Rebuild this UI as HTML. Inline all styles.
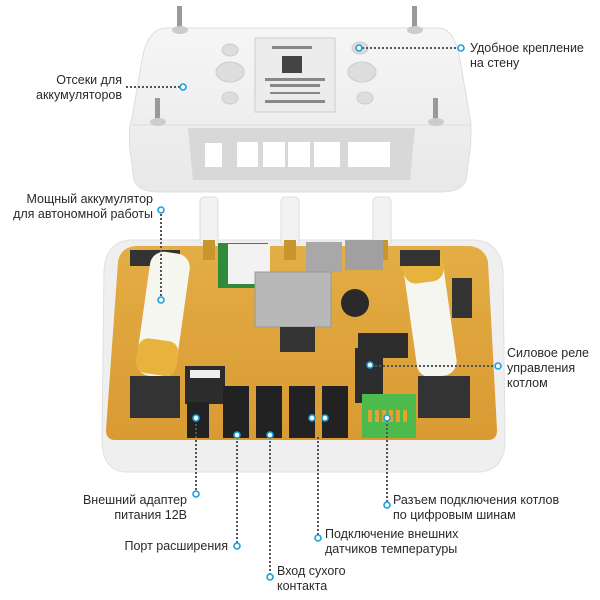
<!DOCTYPE html>
<html><head><meta charset="utf-8"><style>
html,body{margin:0;padding:0;background:#fff;}
svg{display:block}
text{font-family:"Liberation Sans",sans-serif;font-size:12.5px;fill:#2a2a2a;}
</style></head><body>
<svg width="600" height="600" viewBox="0 0 600 600" xmlns="http://www.w3.org/2000/svg">
<defs>
<linearGradient id="hs" x1="0" y1="0" x2="0" y2="1"><stop offset="0" stop-color="#f6f6f6"/><stop offset="1" stop-color="#e8e8e8"/></linearGradient>
<linearGradient id="bd" x1="0" y1="0" x2="0" y2="1"><stop offset="0" stop-color="#e4ad45"/><stop offset="1" stop-color="#d99a32"/></linearGradient>
</defs>
<path d="M165 28 L440 28 Q455 30 460 60 L470 118 Q472 128 470 150 L466 180 Q462 192 440 192 L160 192 Q138 192 134 180 L130 150 Q128 128 132 118 L142 60 Q147 30 165 28Z" fill="url(#hs)" stroke="#ddd"/>
<path d="M132 125 L470 125" stroke="#ddd"/>
<path d="M188 128 L415 128 L410 180 L193 180Z" fill="#d8d8d8"/>
<g fill="#fff"><rect x="205" y="143" width="17" height="24"/><rect x="237" y="142" width="21" height="25"/><rect x="263" y="142" width="22" height="25"/><rect x="288" y="142" width="22" height="25"/><rect x="314" y="142" width="26" height="25"/><rect x="348" y="142" width="42" height="25"/></g>
<rect x="255" y="38" width="80" height="74" fill="#ececec" stroke="#ccc"/>
<rect x="282" y="56" width="20" height="17" fill="#444"/>
<g fill="#888"><rect x="265" y="78" width="60" height="3"/><rect x="270" y="84" width="50" height="3"/><rect x="270" y="92" width="50" height="2"/><rect x="265" y="100" width="60" height="3"/><rect x="272" y="46" width="40" height="3"/></g>
<g fill="#ddd" stroke="#ccc"><ellipse cx="230" cy="50" rx="8" ry="6"/><ellipse cx="230" cy="72" rx="14" ry="10"/><ellipse cx="230" cy="98" rx="8" ry="6"/><ellipse cx="360" cy="48" rx="8" ry="6"/><ellipse cx="362" cy="72" rx="14" ry="10"/><ellipse cx="365" cy="98" rx="8" ry="6"/></g>
<g fill="#999"><rect x="177" y="6" width="5" height="24"/><rect x="412" y="6" width="5" height="24"/><rect x="155" y="98" width="5" height="24"/><rect x="433" y="98" width="5" height="24"/></g>
<g fill="#ccc"><ellipse cx="180" cy="30" rx="8" ry="4"/><ellipse cx="415" cy="30" rx="8" ry="4"/><ellipse cx="158" cy="122" rx="8" ry="4"/><ellipse cx="436" cy="122" rx="8" ry="4"/></g>
<path d="M130 240 L475 240 Q500 242 503 270 L505 440 Q505 470 480 472 L125 472 Q102 470 102 440 L104 270 Q106 242 130 240Z" fill="#efefef" stroke="#e0e0e0"/>
<path d="M135 246 L470 246 Q485 248 488 262 L497 430 Q497 440 488 440 L115 440 Q106 440 106 430 L118 262 Q120 248 135 246Z" fill="url(#bd)"/>
<g fill="#f2f2f2" stroke="#ddd"><rect x="200" y="197" width="18" height="48" rx="4"/><rect x="281" y="197" width="18" height="48" rx="4"/><rect x="373" y="197" width="18" height="48" rx="4"/></g>
<g fill="#c8962e"><rect x="203" y="240" width="12" height="20"/><rect x="284" y="240" width="12" height="20"/><rect x="376" y="240" width="12" height="20"/></g>
<rect x="218" y="243" width="50" height="45" fill="#2f8a3a"/><rect x="228" y="244" width="42" height="40" fill="#f2f2f2"/>
<rect x="306" y="242" width="36" height="30" fill="#a8a8a8"/><rect x="345" y="240" width="38" height="30" fill="#a0a0a0"/>
<rect x="255" y="272" width="76" height="55" fill="#b8b8b8" stroke="#999"/>
<rect x="280" y="327" width="35" height="25" fill="#333"/>
<circle cx="355" cy="303" r="14" fill="#2a2a2a"/>
<rect x="358" y="333" width="50" height="25" fill="#2d2d2d"/><rect x="355" y="348" width="28" height="55" fill="#2d2d2d"/>
<rect x="130" y="250" width="36" height="16" fill="#333"/><rect x="160" y="250" width="20" height="16" fill="#333"/>
<g transform="rotate(8 162 315)"><rect x="143" y="252" width="40" height="125" rx="14" fill="#f6f6f0"/><rect x="143" y="340" width="40" height="35" rx="10" fill="#e8b33c"/></g>
<g transform="rotate(-8 430 315)"><rect x="410" y="252" width="40" height="125" rx="14" fill="#f6f6f0"/><rect x="410" y="252" width="40" height="30" rx="12" fill="#e8b33c"/></g>
<rect x="130" y="376" width="50" height="42" fill="#333"/><rect x="418" y="376" width="52" height="42" fill="#333"/>
<rect x="400" y="250" width="40" height="16" fill="#333"/>
<rect x="452" y="278" width="20" height="40" fill="#333"/>
<rect x="185" y="366" width="40" height="38" fill="#2c2c2c"/><rect x="190" y="370" width="30" height="8" fill="#eee"/>
<rect x="187" y="402" width="22" height="36" fill="#222"/>
<g fill="#222"><rect x="223" y="386" width="26" height="52"/><rect x="256" y="386" width="26" height="52"/><rect x="289" y="386" width="26" height="52"/><rect x="322" y="386" width="26" height="52"/></g>
<rect x="362" y="394" width="54" height="44" fill="#4cbb4c"/>
<g fill="#e8a030"><rect x="368" y="410" width="4" height="12"/><rect x="375" y="410" width="4" height="12"/><rect x="382" y="410" width="4" height="12"/><rect x="389" y="410" width="4" height="12"/><rect x="396" y="410" width="4" height="12"/><rect x="403" y="410" width="4" height="12"/></g>
<g stroke="#555" stroke-width="2" stroke-dasharray="2 2" fill="none">
<path d="M362 48 H458"/><path d="M126 87 H180"/><path d="M161 214 V298"/><path d="M371 366 H496"/>
<path d="M196 420 V490"/><path d="M237 437 V543"/><path d="M270 437 V574"/><path d="M318 437 V535"/><path d="M387 420 V502"/>
</g>
<g stroke="#1aa0e0" stroke-width="1.6" fill="#fff">
<circle cx="359" cy="48" r="3"/><circle cx="461" cy="48" r="3"/><circle cx="183" cy="87" r="3"/><circle cx="161" cy="210" r="3"/><circle cx="161" cy="300" r="3"/>
<circle cx="370" cy="365" r="3"/><circle cx="498" cy="366" r="3"/><circle cx="196" cy="418" r="3"/><circle cx="196" cy="494" r="3"/>
<circle cx="237" cy="435" r="3"/><circle cx="237" cy="546" r="3"/><circle cx="270" cy="435" r="3"/><circle cx="270" cy="577" r="3"/>
<circle cx="312" cy="418" r="3"/><circle cx="325" cy="418" r="3"/><circle cx="318" cy="538" r="3"/><circle cx="387" cy="418" r="3"/><circle cx="387" cy="505" r="3"/>
</g>
<text x="470" y="52">Удобное крепление</text><text x="470" y="67">на стену</text>
<text x="122" y="84" text-anchor="end">Отсеки для</text><text x="122" y="99" text-anchor="end">аккумуляторов</text>
<text x="153" y="203" text-anchor="end">Мощный аккумулятор</text><text x="153" y="218" text-anchor="end">для автономной работы</text>
<text x="507" y="357">Силовое реле</text><text x="507" y="372">управления</text><text x="507" y="387">котлом</text>
<text x="187" y="504" text-anchor="end">Внешний адаптер</text><text x="187" y="519" text-anchor="end">питания 12В</text>
<text x="228" y="550" text-anchor="end">Порт расширения</text>
<text x="277" y="575">Вход сухого</text><text x="277" y="590">контакта</text>
<text x="325" y="538">Подключение внешних</text><text x="325" y="553">датчиков температуры</text>
<text x="393" y="504">Разъем подключения котлов</text><text x="393" y="519">по цифровым шинам</text>
</svg>
</body></html>
